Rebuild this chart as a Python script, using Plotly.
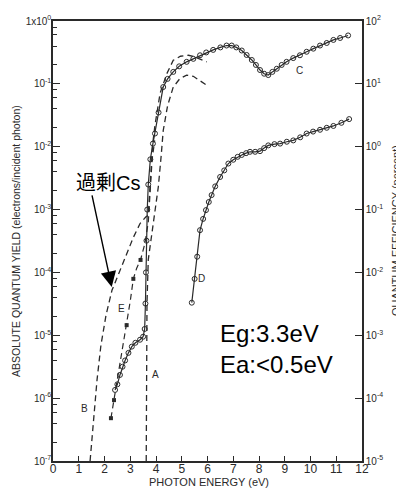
import plotly.graph_objects as go

# ---------------- data ----------------
energy_A = [3.62, 3.63, 3.65, 3.70, 3.80, 3.95, 4.09, 4.20, 4.28, 4.45, 4.67, 4.92, 5.19, 5.45, 5.72, 5.97]
yield_A = [1.0e-7, 3.2e-6, 3.2e-5, 1.6e-4, 3.2e-4, 1.0e-3, 2.3e-3, 7.1e-3, 1.8e-2, 4.5e-2, 8.9e-2, 0.12, 0.138, 0.132, 0.112, 0.095]

energy_B = [1.44, 1.55, 1.71, 1.86, 2.06, 2.29, 2.60, 2.86, 3.12, 3.38, 3.60, 3.70, 3.75, 3.80, 3.87, 3.96, 4.16, 4.42, 4.67, 4.95, 5.26, 5.50, 5.75, 5.97]
yield_B = [1.0e-7, 3.5e-7, 1.95e-6, 6.9e-6, 2.1e-5, 5.2e-5, 1.1e-4, 2.0e-4, 3.6e-4, 6.0e-4, 7.6e-4, 8.1e-4, 2.0e-3, 5.0e-3, 1.1e-2, 2.2e-2, 7.1e-2, 0.145, 0.237, 0.275, 0.285, 0.269, 0.245, 0.224]

energy_C = [2.41, 2.50, 2.60, 2.70, 2.80, 2.93, 3.06, 3.20, 3.38, 3.50, 3.56, 3.59, 3.61, 3.63, 3.66, 3.70, 3.78,
            3.88, 3.96, 4.10, 4.28, 4.45, 4.67, 4.90, 5.19, 5.45, 5.71, 5.95, 6.22, 6.50, 6.74, 6.94, 7.12,
            7.33, 7.52, 7.72, 7.88, 8.04, 8.20, 8.36, 8.52, 8.69, 8.88, 9.07, 9.33, 9.59, 9.85, 10.11, 10.37,
            10.63, 10.89, 11.15, 11.46]
yield_C = [1.35e-6, 1.66e-6, 2.34e-6, 3.16e-6, 3.98e-6, 5.25e-6, 6.6e-6, 7.6e-6, 8.5e-6, 9.5e-6, 1.26e-5, 3.2e-5, 1.0e-4, 3.2e-4, 1.0e-3, 2.5e-3, 6.3e-3,
           1.12e-2, 1.62e-2, 3.5e-2, 8.9e-2, 0.12, 0.155, 0.19, 0.224, 0.25, 0.285, 0.316, 0.347, 0.38, 0.407, 0.407, 0.38,
           0.339, 0.288, 0.24, 0.20, 0.166, 0.145, 0.138, 0.155, 0.174, 0.20, 0.224, 0.257, 0.285, 0.324, 0.363, 0.407,
           0.447, 0.50, 0.537, 0.589]

energy_D = [5.39, 5.50, 5.60, 5.71, 5.83, 5.94, 6.05, 6.16, 6.30, 6.49, 6.65, 6.81, 7.00, 7.17, 7.33, 7.50, 7.65,
            7.85, 8.04, 8.20, 8.36, 8.60, 8.82, 9.08, 9.33, 9.60, 9.85, 10.10, 10.37, 10.63, 10.89, 11.20, 11.50]
yield_D = [3.3e-5, 7.9e-5, 1.78e-4, 4.7e-4, 7.1e-4, 9.8e-4, 1.32e-3, 1.7e-3, 2.34e-3, 3.3e-3, 4.2e-3, 5.4e-3, 6.2e-3, 6.9e-3, 7.4e-3, 7.9e-3, 8.3e-3,
           8.3e-3, 8.5e-3, 9.5e-3, 1.05e-2, 1.1e-2, 1.12e-2, 1.2e-2, 1.26e-2, 1.41e-2, 1.62e-2, 1.74e-2, 1.86e-2, 2.0e-2, 2.14e-2, 2.4e-2, 2.75e-2]

energy_E = [2.25, 2.37, 2.50, 2.65, 2.86, 3.00, 3.12, 3.25, 3.40, 3.57, 3.70, 3.78, 3.85, 3.95]
yield_E = [4.8e-7, 9.3e-7, 2.0e-6, 4.7e-6, 1.45e-5, 3.5e-5, 7.9e-5, 1.17e-4, 1.58e-4, 2.9e-4, 6.3e-4, 2.0e-3, 6.3e-3, 1.26e-2]
energy_E_pts = [2.25, 2.37, 2.86, 3.12, 3.40]
yield_E_pts = [4.8e-7, 9.3e-7, 1.45e-5, 7.9e-5, 1.58e-4]

x_ticks = list(range(0, 13))
left_tickvals = [1e-7, 1e-6, 1e-5, 1e-4, 1e-3, 1e-2, 1e-1, 1e0]
left_ticktext = ["10<sup>-7</sup>", "10<sup>-6</sup>", "10<sup>-5</sup>", "10<sup>-4</sup>",
                 "10<sup>-3</sup>", "10<sup>-2</sup>", "10<sup>-1</sup>", "1x10<sup>0</sup>"]
right_tickvals = [1e-5, 1e-4, 1e-3, 1e-2, 1e-1, 1e0, 1e1, 1e2]
right_ticktext = ["10<sup>-5</sup>", "10<sup>-4</sup>", "10<sup>-3</sup>", "10<sup>-2</sup>",
                  "10<sup>-1</sup>", "10<sup>0</sup>", "10<sup>1</sup>", "10<sup>2</sup>"]
minor_mult = [2, 4, 6, 8]
minor_vals = [m * 10.0 ** e for e in range(-7, 0) for m in minor_mult]

# ---------------- figure ----------------
ink = "#2a2a2a"
dash = "6px,4px"
font = "Liberation Sans, Arial, sans-serif"

fig = go.Figure()
fig.add_trace(go.Scatter(x=energy_A, y=yield_A, mode="lines", line=dict(color=ink, width=1.3, dash=dash)))
fig.add_trace(go.Scatter(x=energy_B, y=yield_B, mode="lines", line=dict(color=ink, width=1.3, dash=dash)))
fig.add_trace(go.Scatter(x=energy_E, y=yield_E, mode="lines", line=dict(color=ink, width=1.2, dash=dash)))
fig.add_trace(go.Scatter(x=energy_E_pts, y=yield_E_pts, mode="markers",
                         marker=dict(symbol="square", size=4, color=ink)))
fig.add_trace(go.Scatter(x=energy_C, y=yield_C, mode="lines+markers", line=dict(color=ink, width=1.2),
                         marker=dict(symbol="circle-open", size=5, color=ink, line=dict(width=1))))
fig.add_trace(go.Scatter(x=energy_D, y=yield_D, mode="lines+markers", line=dict(color=ink, width=1.2),
                         marker=dict(symbol="circle-open", size=5, color=ink, line=dict(width=1))))
# invisible trace carrying the right-hand axis
fig.add_trace(go.Scatter(x=[0, 12], y=[1e-5, 1e2], yaxis="y2", mode="markers",
                         marker=dict(opacity=0), hoverinfo="skip"))

# the page adds an 8px body margin, so the figure is 8px smaller and margins are shifted
fig.update_layout(
    width=396, height=480,
    margin=dict(l=45, r=42, t=13, b=27, autoexpand=False),
    paper_bgcolor="white", plot_bgcolor="white",
    showlegend=False,
    font=dict(family=font, color=ink),
    xaxis=dict(range=[0, 12], tickvals=x_ticks, ticks="inside", ticklen=5, tickwidth=1,
               tickcolor=ink, showline=True, linecolor=ink, linewidth=1.5, mirror=True,
               showgrid=False, zeroline=False, automargin=False, ticklabelstandoff=-4,
               tickfont=dict(size=12, family=font)),
    yaxis=dict(type="log", range=[-7, 0], tickvals=left_tickvals, ticktext=left_ticktext,
               ticks="inside", ticklen=7, tickwidth=1, tickcolor=ink,
               minor=dict(tickvals=minor_vals, ticks="inside", ticklen=4, tickcolor=ink, showgrid=False),
               showline=True, linecolor=ink, linewidth=1.5, showgrid=False, zeroline=False,
               automargin=False, ticklabelstandoff=-2, tickfont=dict(size=10, family=font)),
    yaxis2=dict(type="log", range=[-5, 2], overlaying="y", side="right", anchor="x",
                tickvals=right_tickvals, ticktext=right_ticktext,
                ticks="inside", ticklen=7, tickwidth=1, tickcolor=ink,
                showline=True, linecolor=ink, linewidth=1.5, showgrid=False, zeroline=False,
                automargin=False, tickfont=dict(size=10, family=font)),
)

PW, PH = 309.0, 440.0   # plot area in px; page coords: left 53, bottom 461


def px_to_paper(px, py):
    return (px - 53) / PW, (461 - py) / PH


ann = []
# axis titles
x0, y0 = px_to_paper(209, 482)
ann.append(dict(text="PHOTON ENERGY (eV)", xref="paper", yref="paper", x=x0, y=y0,
                xanchor="center", yanchor="middle",
                showarrow=False, font=dict(size=11, family=font, color=ink)))
x0, y0 = px_to_paper(16, 241)
ann.append(dict(text="ABSOLUTE QUANTUM YIELD (electrons/incident photon)", xref="paper", yref="paper",
                x=x0, y=y0, xanchor="center", yanchor="middle", textangle=-90, showarrow=False,
                font=dict(size=10.5, family=font, color=ink)))
x0, y0 = px_to_paper(396, 231)
ann.append(dict(text="QUANTUM EFFICIENCY (percent)", xref="paper", yref="paper",
                x=x0, y=y0, xanchor="center", yanchor="middle", textangle=-90, showarrow=False,
                font=dict(size=11, family=font, color=ink)))
# curve labels
for lab, xx, yy in [("A", 3.99, -5.63), ("B", 1.24, -6.17), ("C", 9.59, -0.78), ("D", 5.77, -4.10), ("E", 2.67, -4.57)]:
    ann.append(dict(text=lab, x=xx, y=yy, xref="x", yref="y", showarrow=False,
                    xanchor="center", yanchor="middle",
                    font=dict(size=10, family=font, color=ink)))
# big texts
x0, y0 = px_to_paper(218, 333)
ann.append(dict(text="Eg:3.3eV", xref="paper", yref="paper", x=x0, y=y0,
                xanchor="left", yanchor="middle", showarrow=False, font=dict(size=24, family=font, color="black")))
x0, y0 = px_to_paper(218, 364)
ann.append(dict(text="Ea:&lt;0.5eV", xref="paper", yref="paper", x=x0, y=y0,
                xanchor="left", yanchor="middle", showarrow=False, font=dict(size=24, family=font, color="black")))
x0, y0 = px_to_paper(107.5, 183)
ann.append(dict(text="過剰Cs", xref="paper", yref="paper", x=x0, y=y0, xanchor="center", yanchor="middle",
                showarrow=False, font=dict(size=20, family="Liberation Sans, Noto Sans CJK JP, sans-serif", color="black")))
ann.append(dict(text="", x=2.28, y=-4.23, xref="x", yref="y", showarrow=True, ax=-20, ay=-93,
                arrowhead=2, arrowsize=2.2, arrowwidth=1.4, arrowcolor="black", standoff=0))
fig.update_layout(annotations=ann)

fig.write_html("out.html")
